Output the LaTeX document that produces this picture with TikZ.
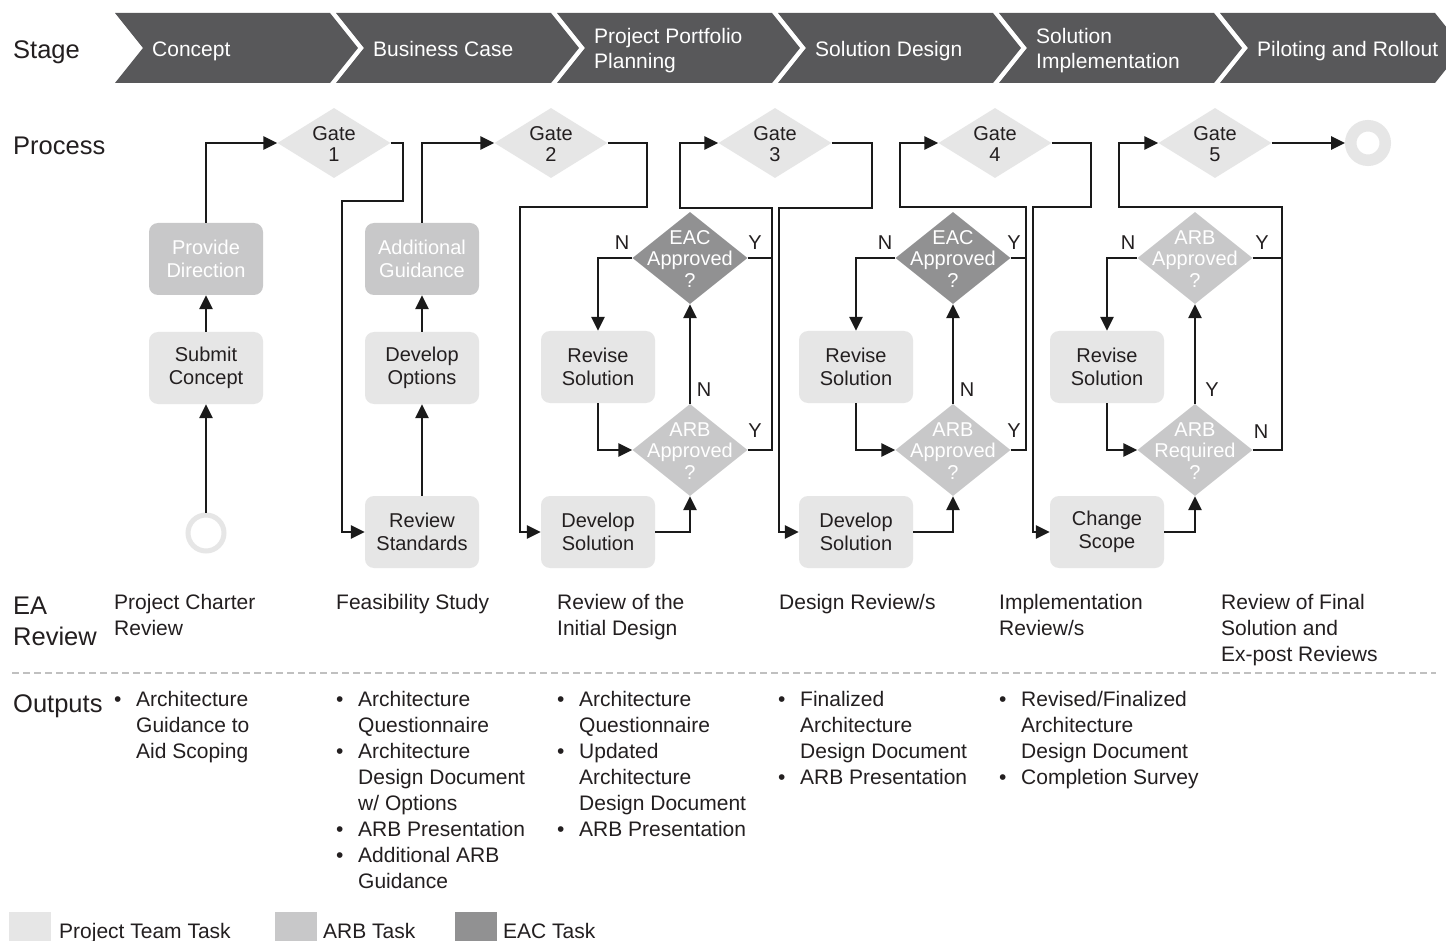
\documentclass[tikz,border=0pt]{standalone}
\usepackage{fontspec}
\setmainfont{Liberation Sans}
\usetikzlibrary{arrows.meta,shapes.geometric}
\definecolor{chevc}{RGB}{88,88,90}
\definecolor{teamc}{RGB}{230,230,230}
\definecolor{arbc}{RGB}{200,200,201}
\definecolor{eacc}{RGB}{145,145,146}
\definecolor{inkc}{RGB}{35,31,32}
\definecolor{linec}{RGB}{26,26,26}
\definecolor{dashc}{RGB}{192,192,192}
\newcommand{\fsBody}{\fontsize{21}{26}\selectfont}
\newcommand{\fsProc}{\fontsize{20}{23}\selectfont}
\newcommand{\fsDia}{\fontsize{20}{21.5}\selectfont}
\newcommand{\fsHead}{\fontsize{25.5}{31}\selectfont}
\newcommand{\fsChev}{\fontsize{21}{25}\selectfont}
\newcommand{\bul}{\makebox[22pt][l]{\textbullet}}
\newcommand{\ind}{\hspace*{22pt}}
\begin{document}
\begin{tikzpicture}[x=1pt,y=-1pt,
  chevtext/.style={font=\fsChev, text=white, align=left, anchor=west, inner sep=0pt},
  head/.style={font=\fsHead, text=inkc, anchor=base west, inner sep=0pt},
  teambox/.style={rectangle, rounded corners=9pt, fill=teamc, minimum width=114pt, minimum height=72pt, font=\fsProc, text=inkc, align=center, inner sep=0pt},
  arbbox/.style={teambox, fill=arbc, text=white},
  gate/.style={diamond, fill=teamc, minimum width=113pt, minimum height=70pt, inner sep=0pt},
  arbdia/.style={diamond, fill=arbc, minimum width=115pt, minimum height=92pt, inner sep=0pt},
  eacdia/.style={arbdia, fill=eacc},
  dtext/.style={font=\fsDia, align=center, inner sep=0pt},
  conn/.style={draw=linec, line width=2.6pt},
  arr/.style={conn, -{Triangle[length=14pt,width=13pt]}},
  yn/.style={font=\fsProc, text=inkc, inner sep=0pt},
  body/.style={font=\fsBody, text=inkc, align=left, anchor=north west, inner sep=0pt},
  legbox/.style={minimum width=42pt, minimum height=30pt, inner sep=0pt, anchor=north west}
]
\useasboundingbox (0,0) rectangle (1446,941);
\clip (0,0) rectangle (1446,941);
\fill[white] (0,0) rectangle (1446,941);

% ---------- stage chevrons ----------
\fill[chevc] (115,13) -- (330,13) -- (358,48) -- (330,83) -- (115,83) -- (143,48) -- cycle;
\fill[chevc] (336,13) -- (551,13) -- (579,48) -- (551,83) -- (336,83) -- (364,48) -- cycle;
\fill[chevc] (557,13) -- (772,13) -- (800,48) -- (772,83) -- (557,83) -- (585,48) -- cycle;
\fill[chevc] (778,13) -- (993,13) -- (1021,48) -- (993,83) -- (778,83) -- (806,48) -- cycle;
\fill[chevc] (999,13) -- (1214,13) -- (1242,48) -- (1214,83) -- (999,83) -- (1027,48) -- cycle;
\fill[chevc] (1220,13) -- (1435,13) -- (1463,48) -- (1435,83) -- (1220,83) -- (1248,48) -- cycle;
\node[chevtext] (c1) at (152,51) {Concept};
\node[chevtext] (c2) at (373,49) {Business Case};
\node[chevtext] (c3) at (594,51) {Project Portfolio\\Planning};
\node[chevtext] (c4) at (815,51) {Solution Design};
\node[chevtext] (c5) at (1036,51) {Solution\\Implementation};
\node[chevtext] (c6) at (1257,51) {Piloting and Rollout};

% ---------- row headers ----------
\node[head] (hs) at (13,59) {Stage};
\node[head] (hp) at (13,155) {Process};
\node[head, anchor=north west, align=left] (hea) at (13,596.5) {EA\\Review};
\node[head] (ho) at (13,712) {Outputs};

% ---------- gates ----------
\node[gate] (g1) at (334,143) {};
\node[gate] (g2) at (551,143) {};
\node[gate] (g3) at (775,143) {};
\node[gate] (g4) at (995,143) {};
\node[gate] (g5) at (1215,143) {};
\node[dtext, text=inkc] (g1t) at (334,144) {Gate\\1};
\node[dtext, text=inkc] (g2t) at (551,144) {Gate\\2};
\node[dtext, text=inkc] (g3t) at (775,144) {Gate\\3};
\node[dtext, text=inkc] (g4t) at (995,144) {Gate\\4};
\node[dtext, text=inkc] (g5t) at (1215,144) {Gate\\5};

% ---------- start / end ----------
\node[circle, draw=teamc, line width=5pt, minimum size=36pt, inner sep=0pt] (start) at (206,533) {};
\node[circle, draw=teamc, line width=11.5pt, minimum size=34.5pt, inner sep=0pt] (fin) at (1368,143) {};

% ---------- boxes ----------
\node[arbbox] (pd) at (206,259) {Provide\\Direction};
\node[teambox] (sc) at (206,368) {Submit\\Concept};
\node[arbbox] (ag) at (422,259) {Additional\\Guidance};
\node[teambox] (dop) at (422,368) {Develop\\Options};
\node[teambox] (rs) at (422,532) {Review\\Standards};
\node[teambox] (rv3) at (598,367) {Revise\\Solution};
\node[teambox] (ds3) at (598,532) {Develop\\Solution};
\node[teambox] (rv4) at (856,367) {Revise\\Solution};
\node[teambox] (ds4) at (856,532) {Develop\\Solution};
\node[teambox] (rv5) at (1107,367) {Revise\\Solution};
\node[teambox] (cs) at (1107,532) {Change\\Scope};

% ---------- decision diamonds ----------
\node[eacdia] (e3) at (690,258) {};
\node[arbdia] (a3) at (690,450) {};
\node[eacdia] (e4) at (953,258) {};
\node[arbdia] (a4) at (953,450) {};
\node[arbdia] (a5) at (1195,258) {};
\node[arbdia] (r5) at (1195,450) {};
\node[dtext, text=white] (e3t) at (690,259) {EAC\\Approved\\?};
\node[dtext, text=white] (a3t) at (690,451) {ARB\\Approved\\?};
\node[dtext, text=white] (e4t) at (953,259) {EAC\\Approved\\?};
\node[dtext, text=white] (a4t) at (953,451) {ARB\\Approved\\?};
\node[dtext, text=white] (a5t) at (1195,259) {ARB\\Approved\\?};
\node[dtext, text=white] (r5t) at (1195,451) {ARB\\Required\\?};

% ---------- connectors: column 1 ----------
\draw[arr] (start.north) -- (sc.south);
\draw[arr] (sc.north) -- (pd.south);
\draw[arr] (pd.north) |- (g1.west);
\draw[arr] (g1.east) -- (403,143) -- (403,201) -- (342,201) |- (rs.west);
% column 2
\draw[arr] (rs.north) -- (dop.south);
\draw[arr] (dop.north) -- (ag.south);
\draw[arr] (ag.north) |- (g2.west);
\draw[arr] (g2.east) -- (647,143) -- (647,207) -- (520,207) |- (ds3.west);
% column 3
\draw[arr] (ds3.east) -| (a3.south);
\draw[arr] (a3.north) -- (e3.south);
\draw[arr] (rv3.south) |- (a3.west);
\draw[arr] (e3.west) -| (rv3.north);
\draw[conn] (e3.east) -- (772,258);
\draw[arr] (a3.east) -- (772,450) -- (772,208) -- (680,208) |- (g3.west);
\draw[arr] (g3.east) -- (872,143) -- (872,208) -- (779,208) |- (ds4.west);
% column 4
\draw[arr] (ds4.east) -| (a4.south);
\draw[arr] (a4.north) -- (e4.south);
\draw[arr] (rv4.south) |- (a4.west);
\draw[arr] (e4.west) -| (rv4.north);
\draw[conn] (e4.east) -- (1026,258);
\draw[arr] (a4.east) -- (1026,450) -- (1026,207) -- (900,207) |- (g4.west);
\draw[arr] (g4.east) -- (1091,143) -- (1091,207) -- (1033,207) |- (cs.west);
% column 5
\draw[arr] (cs.east) -| (r5.south);
\draw[arr] (r5.north) -- (a5.south);
\draw[arr] (rv5.south) |- (r5.west);
\draw[arr] (a5.west) -| (rv5.north);
\draw[conn] (a5.east) -- (1282,258);
\draw[arr] (r5.east) -- (1282,450) -- (1282,207) -- (1119,207) |- (g5.west);
\draw[arr] (g5.east) -- (fin.west);

% ---------- Y / N labels ----------
\node[yn] (n3a) at (622,243) {N};
\node[yn] (y3a) at (755,243) {Y};
\node[yn] (n3b) at (704,390) {N};
\node[yn] (y3b) at (755,431) {Y};
\node[yn] (n4a) at (885,243) {N};
\node[yn] (y4a) at (1014,243) {Y};
\node[yn] (n4b) at (967,390) {N};
\node[yn] (y4b) at (1014,431) {Y};
\node[yn] (n5a) at (1128,243) {N};
\node[yn] (y5a) at (1262,243) {Y};
\node[yn] (y5b) at (1212,390) {Y};
\node[yn] (n5b) at (1261,432) {N};

% ---------- EA review ----------
\node[body] (ea1) at (114,594) {Project Charter\\Review};
\node[body] (ea2) at (336,594) {Feasibility Study};
\node[body] (ea3) at (557,594) {Review of the\\Initial Design};
\node[body] (ea4) at (779,594) {Design Review/s};
\node[body] (ea5) at (999,594) {Implementation\\Review/s};
\node[body] (ea6) at (1221,594) {Review of Final\\Solution and\\Ex-post Reviews};

\draw[dashc, line width=2pt, dash pattern=on 7pt off 4pt] (12,673) -- (1436,673);

% ---------- outputs ----------
\node[body] (o1) at (114,691) {\bul Architecture\\\ind Guidance to\\\ind Aid Scoping};
\node[body] (o2) at (336,691) {\bul Architecture\\\ind Questionnaire\\\bul Architecture\\\ind Design Document\\\ind w/ Options\\\bul ARB Presentation\\\bul Additional ARB\\\ind Guidance};
\node[body] (o3) at (557,691) {\bul Architecture\\\ind Questionnaire\\\bul Updated\\\ind Architecture\\\ind Design Document\\\bul ARB Presentation};
\node[body] (o4) at (778,691) {\bul Finalized\\\ind Architecture\\\ind Design Document\\\bul ARB Presentation};
\node[body] (o5) at (999,691) {\bul Revised/Finalized\\\ind Architecture\\\ind Design Document\\\bul Completion Survey};

% ---------- legend ----------
\node[legbox, fill=teamc] (lg1) at (9,912) {};
\node[body, anchor=base west] (lt1) at (59,938) {Project Team Task};
\node[legbox, fill=arbc] (lg2) at (275,912) {};
\node[body, anchor=base west] (lt2) at (323,938) {ARB Task};
\node[legbox, fill=eacc] (lg3) at (455,912) {};
\node[body, anchor=base west] (lt3) at (503,938) {EAC Task};
\end{tikzpicture}
\end{document}
